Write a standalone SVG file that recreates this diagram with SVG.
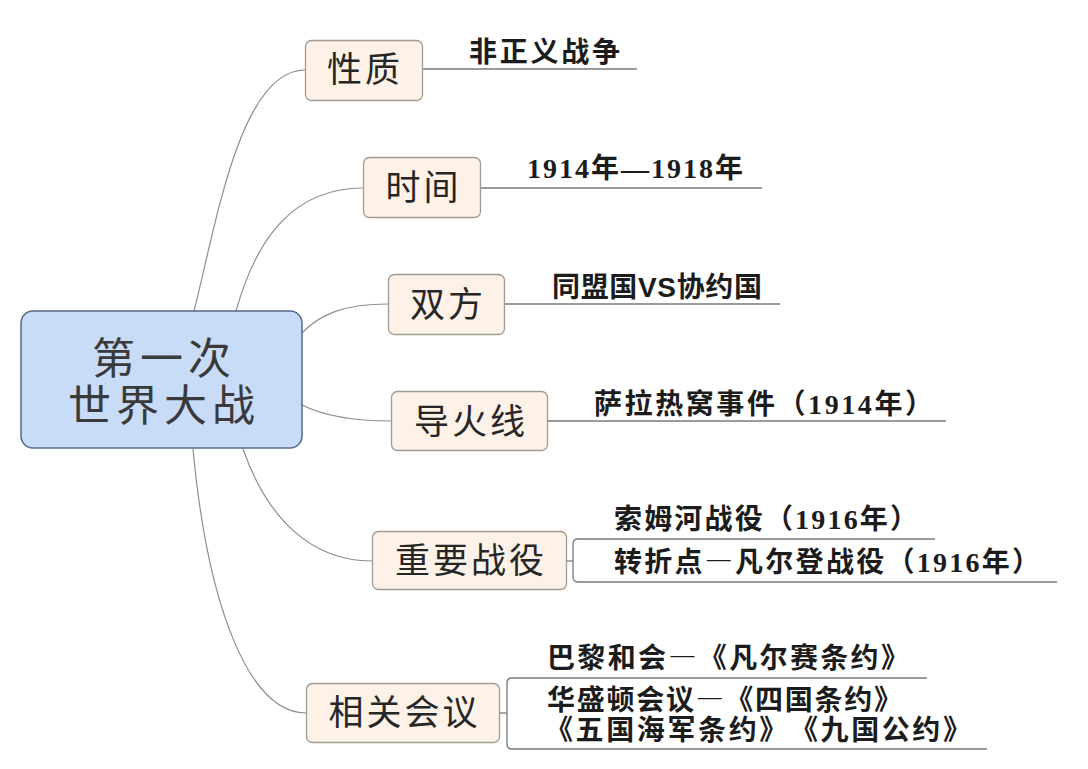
<svg xmlns="http://www.w3.org/2000/svg" width="1088" height="769" viewBox="0 0 1088 769">
  <style>
    .bg { fill: #ffffff; }
    .root-box { fill: #c8dbf7; stroke: #56698c; stroke-width: 1.5; }
    .root-text { font-family: "Noto Sans CJK SC", sans-serif; font-size: 43px; fill: #3a3a3a; text-anchor: middle; letter-spacing: 5px; }
    .topic-box { fill: #fdf1e8; stroke: #a39a91; stroke-width: 1.3; }
    .topic-text { font-family: "Noto Sans CJK SC", sans-serif; font-size: 35px; fill: #262626; text-anchor: middle; letter-spacing: 3px; }
    .leaf-text { font-family: "Liberation Serif", "Noto Sans CJK SC", serif; font-size: 28px; font-weight: bold; fill: #1c1c1c; text-spacing-trim: space-all; }
    .cjk { font-family: "Noto Sans CJK SC", sans-serif; font-feature-settings: "fwid"; }
    .branch { fill: none; stroke: #8e8e8e; stroke-width: 1.2; }
    .leaf-line { fill: none; stroke: #7a7a7a; stroke-width: 1.3; }
  </style>

  <rect class="bg" x="0" y="0" width="1088" height="769"/>

  <!-- connectors from the central topic and leaf underlines -->
  <g id="connectors">
    <path class="branch" d="M194,311 C216,225 240,70 305,70"/>
    <path class="branch" d="M236,311 C256,240 292,188 363,188"/>
    <path class="branch" d="M302,333 C320,314 345,304 388,304"/>
    <path class="branch" d="M302,405 C322,415 350,421 391,421"/>
    <path class="branch" d="M243,449 C268,520 312,561 372,561"/>
    <path class="branch" d="M193,449 C208,610 250,713 306,713"/>

    <path class="leaf-line" d="M423,69 H637"/>
    <path class="leaf-line" d="M481,188 H762"/>
    <path class="leaf-line" d="M505,304 H780"/>
    <path class="leaf-line" d="M548,421 H946"/>

    <path class="leaf-line" d="M566,561 H573"/>
    <path class="leaf-line" d="M935,539 H578 Q573,539 573,544 V577 Q573,582 578,582 H1057"/>

    <path class="leaf-line" d="M500,713 H507"/>
    <path class="leaf-line" d="M927,678 H512 Q507,678 507,683 V744 Q507,749 512,749 H987"/>
  </g>

  <g id="root">
    <rect class="root-box" x="21" y="311" width="281" height="137" rx="12" ry="12"/>
    <text class="root-text"><tspan x="164" y="374">第一次</tspan><tspan x="164" y="421">世界大战</tspan></text>
  </g>

  <g id="node-nature">
    <rect class="topic-box" x="305.5" y="40.5" width="117" height="60" rx="6" ry="6"/>
    <text class="topic-text" x="365" y="82">性质</text>
    <text class="leaf-text" x="469" y="62" textLength="151" lengthAdjust="spacing">非正义战争</text>
  </g>

  <g id="node-time">
    <rect class="topic-box" x="363.5" y="157.5" width="117" height="60" rx="6" ry="6"/>
    <text class="topic-text" x="423.5" y="200">时间</text>
    <text class="leaf-text" x="527" y="178" textLength="216" lengthAdjust="spacing">1914年—1918年</text>
  </g>

  <g id="node-sides">
    <rect class="topic-box" x="388.5" y="274.5" width="116" height="60" rx="6" ry="6"/>
    <text class="topic-text" x="448" y="317">双方</text>
    <text class="leaf-text" x="552" y="297" textLength="210" lengthAdjust="spacing">同盟国<tspan font-family="Liberation Sans">VS</tspan>协约国</text>
  </g>

  <g id="node-fuse">
    <rect class="topic-box" x="391.5" y="391.5" width="156" height="59" rx="6" ry="6"/>
    <text class="topic-text" x="471" y="434">导火线</text>
    <text class="leaf-text" x="594" y="414" textLength="339" lengthAdjust="spacing">萨拉热窝事件（1914年）</text>
  </g>

  <g id="node-battles">
    <rect class="topic-box" x="372.5" y="531.5" width="194" height="58" rx="6" ry="6"/>
    <text class="topic-text" x="471" y="573">重要战役</text>
    <text class="leaf-text" x="614" y="529" textLength="304" lengthAdjust="spacing">索姆河战役（1916年）</text>
    <text class="leaf-text" x="614" y="572" textLength="426" lengthAdjust="spacing">转折点<tspan class="cjk">—</tspan>凡尔登战役（1916年）</text>
  </g>

  <g id="node-conferences">
    <rect class="topic-box" x="306.5" y="683.5" width="193" height="59" rx="6" ry="6"/>
    <text class="topic-text" x="404.5" y="725">相关会议</text>
    <text class="leaf-text" x="547" y="668" textLength="362" lengthAdjust="spacing">巴黎和会<tspan class="cjk">—</tspan>《凡尔赛条约》</text>
    <text class="leaf-text" x="547" y="710" textLength="355" lengthAdjust="spacing">华盛顿会议<tspan class="cjk">—</tspan>《四国条约》</text>
    <text class="leaf-text" x="545" y="740" textLength="426" lengthAdjust="spacing">《五国海军条约》《九国公约》</text>
  </g>
</svg>
